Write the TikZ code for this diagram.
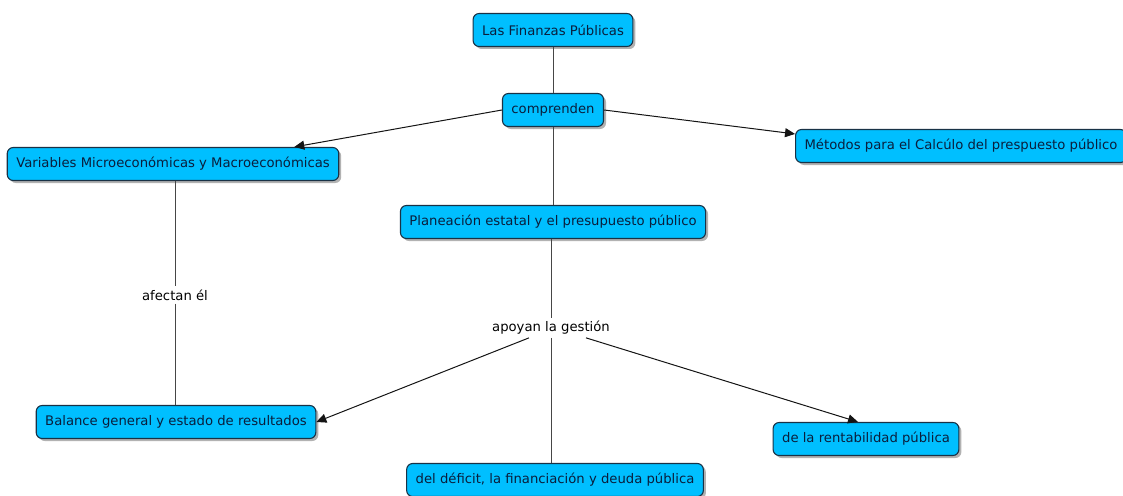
\documentclass[tikz,border=0pt]{standalone}
\usepackage{fontspec}
\setmainfont{DejaVu Sans}
\usetikzlibrary{shadows,arrows.meta}
\definecolor{boxfill}{RGB}{0,191,255}
\definecolor{boxline}{RGB}{25,50,70}
\definecolor{textcol}{RGB}{10,30,60}
\definecolor{linecol}{RGB}{70,70,70}
\definecolor{arrcol}{RGB}{20,20,20}
\begin{document}
\begin{tikzpicture}[x=1pt,y=-1pt,
  box/.style={draw=boxline, line width=1.1pt, rounded corners=6pt, fill=boxfill,
    text=textcol, font=\fontsize{13.2}{15}\selectfont, inner xsep=9pt, inner ysep=0pt,
    minimum height=33pt,
    drop shadow={shadow xshift=2.5pt, shadow yshift=-2.5pt, fill=black, opacity=0.3}},
  lbl/.style={fill=white, text=black, font=\fontsize{13.2}{15}\selectfont, inner sep=3pt},
  link/.style={draw=linecol, line width=1pt},
  arr/.style={draw=arrcol, line width=1pt, -{Triangle[length=10pt,width=9pt]}}]
\useasboundingbox (0,0) rectangle (1123,495);

\node[box] (fin) at (553,30) {Las Finanzas Públicas};
\node[box] (comp) at (553,110) {comprenden};
\node[box] (var) at (173,164) {Variables Microeconómicas y Macroeconómicas};
\node[box] (met) at (961,146) {Métodos para el Calcúlo del prespuesto público};
\node[box] (plan) at (553,222) {Planeación estatal y el presupuesto público};
\node[lbl] (apo) at (551,328) {apoyan la gestión};
\node[lbl] (afe) at (175,295) {afectan él};
\node[box] (bal) at (176,422) {Balance general y estado de resultados};
\node[box] (def) at (555,480) {del déficit, la financiación y deuda pública};
\node[box] (ren) at (866,439) {de la rentabilidad pública};

\draw[link] (fin.south) -- (comp.north);
\draw[arr] (comp.west) -- ([xshift=-45pt]var.north east);
\draw[arr] (comp.east) -- ([yshift=-5pt]met.north west);
\draw[link] (comp.south) -- (plan.north);
\draw[link] (var.south -| afe.north) -- (afe.north);
\draw[link] (afe.south) -- (bal.north -| afe.south);
\draw[link] (plan.south -| apo.north) -- (apo.north);
\draw[arr] ([xshift=-22pt]apo.south) -- (bal.east);
\draw[link] (apo.south) -- (def.north -| apo.south);
\draw[arr] ([xshift=35pt]apo.south) -- ([xshift=-8pt]ren.north);
\end{tikzpicture}
\end{document}
